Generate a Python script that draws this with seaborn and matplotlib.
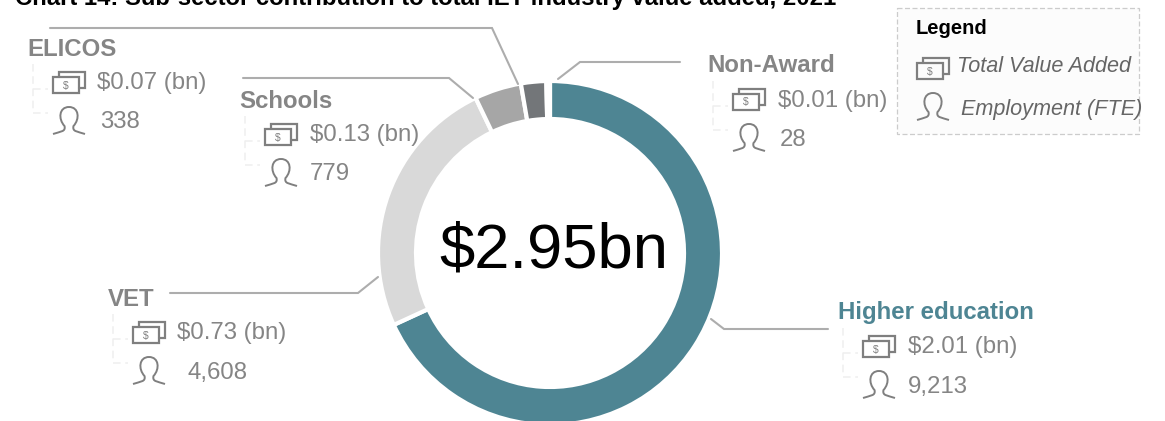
import matplotlib
matplotlib.use("Agg")
import matplotlib.pyplot as plt
import seaborn as sns
from matplotlib.path import Path
from matplotlib.patches import PathPatch, Rectangle

sns.set_theme(style="white")
plt.rcParams['font.family'] = ['Liberation Sans', 'DejaVu Sans']

categories = ["Higher education", "VET", "Schools", "ELICOS", "Non-Award"]
value_added = [2.01, 0.73, 0.13, 0.07, 0.01]
employment = ["9,213", "4,608", "779", "338", "28"]
value_labels = ["$2.01 (bn)", "$0.73 (bn)", "$0.13 (bn)", "$0.07 (bn)", "$0.01 (bn)"]
colors = sns.color_palette(["#4e8593", "#d9d9d9", "#a6a6a6", "#737679", "#ffffff"])
title = "Chart 14: Sub-sector contribution to total IET industry value added, 2021"
total_label = "$2.95bn"

W, H = 1165, 421
fig = plt.figure(figsize=(W / 100, H / 100), dpi=100)
ax = fig.add_axes([0, 0, 1, 1])

ax.pie(value_added, colors=colors, center=(550, 253), radius=172,
       startangle=-90, counterclock=True, frame=True,
       wedgeprops=dict(width=38, edgecolor="white", linewidth=3))
ax.set_xlim(0, W)
ax.set_ylim(H, 0)
ax.set_aspect("auto")
ax.axis("off")

GREY = "#858585"
LEAD = "#adadad"
ICON = "#7f7f7f"


def money(x, y):
    """Icon whose top-left corner is x,y (about 32x21 px)."""
    ax.add_patch(Rectangle((x, y + 5), 26, 16, fill=False, ec=ICON, lw=1.6, zorder=5))
    ax.plot([x + 6, x + 6, x + 32, x + 32, x + 26], [y + 5, y, y, y + 16, y + 16],
            color=ICON, lw=1.6, zorder=5, solid_joinstyle="miter")
    ax.text(x + 13, y + 13.5, "$", fontsize=7.5, color=ICON, ha="center", va="center", zorder=6)


def person(x, y):
    """Omega-shaped icon whose top-left corner is x,y (about 32x27 px)."""
    verts = [(x, y + 27), (x + 7, y + 24.5), (x + 13, y + 25), (x + 11.5, y + 19),
             (x + 5, y + 12), (x + 6, y), (x + 16, y),
             (x + 26, y), (x + 27, y + 12), (x + 20.5, y + 19),
             (x + 19, y + 25), (x + 25, y + 24.5), (x + 32, y + 27)]
    codes = [Path.MOVETO] + [Path.CURVE4] * 12
    ax.add_patch(PathPatch(Path(verts, codes), fill=False, ec=ICON, lw=1.4, zorder=5))


def leader(xs, ys):
    ax.plot(xs, ys, color=LEAD, lw=1.5, zorder=2, solid_joinstyle="miter")


def bracket(x, y0):
    c = "#efefef"
    ax.plot([x, x], [y0, y0 + 45], color=c, lw=1.1, ls=(0, (5, 3)), zorder=1)
    ax.plot([x, x + 15], [y0 + 25, y0 + 25], color=c, lw=1.1, ls=(0, (5, 3)), zorder=1)
    ax.plot([x, x + 15], [y0 + 49, y0 + 49], color=c, lw=1.1, ls=(0, (5, 3)), zorder=1)


ax.text(15, 5, title, fontsize=17.2, fontweight="bold", color="black", ha="left", va="baseline")
ax.text(554, 251, total_label, fontsize=45.6, color="black", ha="center", va="center", zorder=6)

# label block: name x, name y, money-icon x, value x, person-text x
blocks = [
    (0, 838, 313, 862, 908, 908),
    (1, 108, 299, 132, 177, 188),
    (2, 240, 101, 264, 310, 310),
    (3, 28, 49, 52, 97, 100),
    (4, 708, 66, 732, 778, 780),
]
for i, nx, ny, ix, vx, px in blocks:
    ax.text(nx - 0.5, ny, categories[i], fontsize=17.3, fontweight="bold",
            color=colors[0] if i == 0 else GREY, ha="left", va="center")
    money(ix + 1, ny + 23)
    person(ix + 1, ny + 58)
    ax.text(vx, ny + 34.5, value_labels[i], fontsize=17.3, color=GREY, ha="left", va="center")
    ax.text(px, ny + 73.5, employment[i], fontsize=17.3, color=GREY, ha="left", va="center")
    bracket(nx + 5, ny + 15)

leader([711, 724, 828], [319, 329, 329])
leader([170, 358, 378], [293, 293, 277])
leader([243, 449, 473], [78, 78, 98])
leader([50, 492, 518], [28, 28, 84])
leader([680, 580, 558], [62, 62, 79])

# legend
ax.add_patch(Rectangle((897, 8), 242, 126, fc="#fcfcfc", ec="#cccccc", lw=0.9, ls=(0, (4, 2)), zorder=1))
ax.text(916, 28, "Legend", fontsize=14.5, fontweight="bold", color="black", ha="left", va="center", zorder=6)
money(917, 58)
person(917, 93)
ax.text(957, 67, "Total Value Added", fontsize=15.6, style="italic", color="#666666", ha="left", va="center", zorder=6)
ax.text(961, 109, "Employment (FTE)", fontsize=15.6, style="italic", color="#666666", ha="left", va="center", zorder=6)

fig.savefig("out.png", dpi=100)
